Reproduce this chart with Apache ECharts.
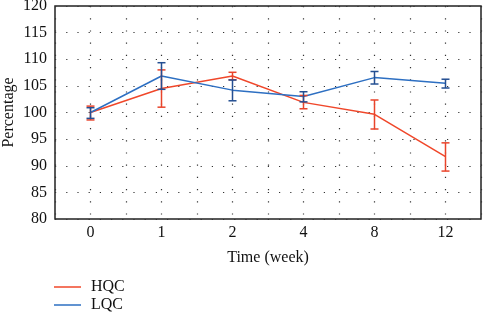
<!DOCTYPE html>
<html><head><meta charset="utf-8">
<script src="https://cdn.jsdelivr.net/npm/echarts@6/dist/echarts.min.js"></script>
<style>html,body{margin:0;padding:0;background:#fff}#c{width:483px;height:314px}</style>
</head><body><div id="c"></div>
<script>
const categories = ['0', '1', '2', '4', '8', '12'];
const hqcMean = [100, 104.5, 106.85, 101.9, 99.65, 91.7];
const hqcLow  = [98.6, 101.0, 106.15, 100.7, 96.9, 89.0];
const hqcHigh = [101.2, 108.0, 107.55, 103.2, 102.35, 94.3];
const lqcMean = [100, 106.85, 104.2, 103.0, 106.55, 105.5];
const lqcLow  = [98.9, 104.35, 102.2, 102.0, 105.35, 104.6];
const lqcHigh = [100.9, 109.35, 106.1, 103.9, 107.7, 106.25];
const yTicks = [80, 85, 90, 95, 100, 105, 110, 115, 120];

const FONT = '"Liberation Serif", "DejaVu Serif", serif';
const RED = '#f0472a', BLUE = '#2d6fc2', RED_E = '#e9442b', BLUE_E = '#244f92';

function errSeries(name, low, high, color) {
  return {
    name: name + '_err', type: 'custom', xAxisIndex: 0, z: 5,
    data: categories.map((c, i) => [i, low[i], high[i]]),
    renderItem: function (params, api) {
      const lo = api.coord([api.value(0), api.value(1)]);
      const hi = api.coord([api.value(0), api.value(2)]);
      const w = 4;
      const st = { stroke: color, lineWidth: 1.5 };
      return { type: 'group', children: [
        { type: 'line', shape: { x1: hi[0], y1: hi[1], x2: lo[0], y2: lo[1] }, style: st },
        { type: 'line', shape: { x1: hi[0]-w, y1: hi[1], x2: hi[0]+w, y2: hi[1] }, style: st },
        { type: 'line', shape: { x1: lo[0]-w, y1: lo[1], x2: lo[0]+w, y2: lo[1] }, style: st }
      ]};
    },
    silent: true
  };
}

const chart = echarts.init(document.getElementById('c'));
chart.setOption({
  animation: false,
  textStyle: { fontFamily: FONT },
  grid: { left: 55, right: 2, top: 6, bottom: 95, show: true, borderColor: '#222', borderWidth: 1.5, backgroundColor: 'transparent', containLabel: false, outerBoundsMode: 'none' },
  xAxis: [
    { type: 'category', data: categories, boundaryGap: true,
      axisLine: { show: false }, axisTick: { show: false }, splitLine: { show: false },
      axisLabel: { color: '#111', fontSize: 16, fontFamily: FONT, margin: 6 },
      name: 'Time (week)', nameLocation: 'middle', nameGap: 31, nameMoveOverlap: false,
      nameTextStyle: { color: '#111', fontSize: 16, fontFamily: FONT } },
    { type: 'value', min: -0.5, max: 5.5, interval: 0.5, show: true, position: 'bottom',
      axisLine: { show: false }, axisTick: { show: false }, axisLabel: { show: false },
      splitLine: { show: true, lineStyle: { color: '#333', type: [1.2, 11], width: 1.2 } } }
  ],
  yAxis: {
    type: 'value', min: yTicks[0], max: yTicks[yTicks.length-1], interval: 5,
    axisLine: { show: false }, axisTick: { show: false },
    axisLabel: { color: '#111', fontSize: 16, fontFamily: FONT, margin: 8 },
    splitLine: { show: true, lineStyle: { color: '#333', type: [1.2, 10], width: 1.2 } },
    name: 'Percentage', nameLocation: 'middle', nameGap: 38, nameMoveOverlap: false,
    nameTextStyle: { color: '#111', fontSize: 16, fontFamily: FONT }
  },
  legend: {
    orient: 'vertical', left: 54, top: 279, itemGap: 2, padding: 0,
    icon: 'rect', itemWidth: 27, itemHeight: 1.5,
    textStyle: { color: '#111', fontSize: 16, fontFamily: FONT, padding: [0, 0, 0, 5] },
    data: ['HQC', 'LQC']
  },
  series: [
    { name: 'HQC', type: 'line', xAxisIndex: 0, data: hqcMean, symbol: 'none', lineStyle: { color: RED, width: 1.5 }, itemStyle: { color: RED }, z: 3 },
    { name: 'LQC', type: 'line', xAxisIndex: 0, data: lqcMean, symbol: 'none', lineStyle: { color: BLUE, width: 1.5 }, itemStyle: { color: BLUE }, z: 3 },
    errSeries('HQC', hqcLow, hqcHigh, RED_E),
    errSeries('LQC', lqcLow, lqcHigh, BLUE_E)
  ]
});
</script></body></html>
